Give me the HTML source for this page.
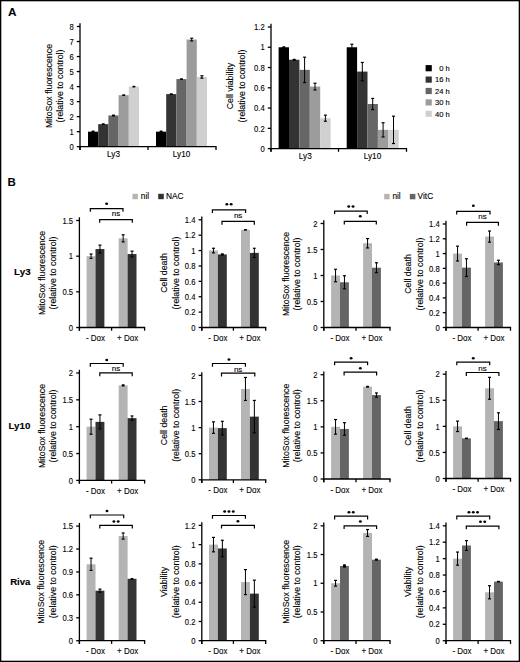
<!DOCTYPE html>
<html><head><meta charset="utf-8"><title>Figure</title>
<style>
html,body{margin:0;padding:0;background:#fff;}
body{width:520px;height:662px;overflow:hidden;font-family:"Liberation Sans", sans-serif;}
svg{display:block;}
text{stroke:#000;stroke-width:0.12px;stroke-linejoin:round;}
</style></head><body>
<svg width="520" height="662" viewBox="0 0 520 662" font-family='"Liberation Sans", sans-serif'>
<rect x="0" y="0" width="520" height="662" fill="#fff"/>
<rect x="88" y="131.67" width="10.2" height="15.02" fill="#000000"/>
<rect x="98.2" y="124.16" width="10.2" height="22.54" fill="#333333"/>
<rect x="108.4" y="115.45" width="10.2" height="31.25" fill="#666666"/>
<rect x="118.6" y="95.16" width="10.2" height="51.54" fill="#9c9c9c"/>
<rect x="128.8" y="86.6" width="10.2" height="60.1" fill="#d0d0d0"/>
<rect x="156" y="131.67" width="10.2" height="15.02" fill="#000000"/>
<rect x="166.2" y="94.11" width="10.2" height="52.59" fill="#333333"/>
<rect x="176.4" y="79.09" width="10.2" height="67.61" fill="#666666"/>
<rect x="186.6" y="39.57" width="10.2" height="107.13" fill="#9c9c9c"/>
<rect x="196.8" y="76.98" width="10.2" height="69.72" fill="#d0d0d0"/>
<rect x="91.6" y="130.57" width="3" height="2.2" rx="0.6" fill="#000"/>
<rect x="101.8" y="123.21" width="3" height="1.9" rx="0.6" fill="#000"/>
<rect x="112" y="114.5" width="3" height="1.9" rx="0.6" fill="#000"/>
<rect x="122.2" y="94.21" width="3" height="1.9" rx="0.6" fill="#000"/>
<rect x="132.4" y="85.65" width="3" height="1.9" rx="0.6" fill="#000"/>
<rect x="159.6" y="130.42" width="3" height="2.5" rx="0.6" fill="#000"/>
<rect x="169.8" y="93.16" width="3" height="1.9" rx="0.6" fill="#000"/>
<rect x="180" y="78.14" width="3" height="1.9" rx="0.6" fill="#000"/>
<line x1="191.7" y1="38.22" x2="191.7" y2="40.92" stroke="#000" stroke-width="1.0"/>
<line x1="190.2" y1="38.22" x2="193.2" y2="38.22" stroke="#000" stroke-width="1.2"/>
<line x1="190.2" y1="40.92" x2="193.2" y2="40.92" stroke="#000" stroke-width="1.2"/>
<line x1="201.9" y1="75.78" x2="201.9" y2="78.19" stroke="#000" stroke-width="1.0"/>
<line x1="200.4" y1="75.78" x2="203.4" y2="75.78" stroke="#000" stroke-width="1.2"/>
<line x1="200.4" y1="78.19" x2="203.4" y2="78.19" stroke="#000" stroke-width="1.2"/>
<line x1="80" y1="23.3" x2="80" y2="149.9" stroke="#000" stroke-width="1.3"/>
<line x1="80" y1="146.7" x2="216.6" y2="146.7" stroke="#000" stroke-width="1.3"/>
<line x1="80" y1="146.7" x2="80" y2="149.9" stroke="#000" stroke-width="1.3"/>
<line x1="148" y1="146.7" x2="148" y2="149.9" stroke="#000" stroke-width="1.3"/>
<line x1="216" y1="146.7" x2="216" y2="149.9" stroke="#000" stroke-width="1.3"/>
<line x1="76.8" y1="146.7" x2="80" y2="146.7" stroke="#000" stroke-width="1.3"/>
<text x="0" y="0" font-size="8.8" text-anchor="end" transform="translate(73.7 149.87) scale(0.87 1)" fill="#000">0</text>
<line x1="76.8" y1="131.67" x2="80" y2="131.67" stroke="#000" stroke-width="1.3"/>
<text x="0" y="0" font-size="8.8" text-anchor="end" transform="translate(73.7 134.84) scale(0.87 1)" fill="#000">1</text>
<line x1="76.8" y1="116.65" x2="80" y2="116.65" stroke="#000" stroke-width="1.3"/>
<text x="0" y="0" font-size="8.8" text-anchor="end" transform="translate(73.7 119.82) scale(0.87 1)" fill="#000">2</text>
<line x1="76.8" y1="101.62" x2="80" y2="101.62" stroke="#000" stroke-width="1.3"/>
<text x="0" y="0" font-size="8.8" text-anchor="end" transform="translate(73.7 104.79) scale(0.87 1)" fill="#000">3</text>
<line x1="76.8" y1="86.6" x2="80" y2="86.6" stroke="#000" stroke-width="1.3"/>
<text x="0" y="0" font-size="8.8" text-anchor="end" transform="translate(73.7 89.77) scale(0.87 1)" fill="#000">4</text>
<line x1="76.8" y1="71.57" x2="80" y2="71.57" stroke="#000" stroke-width="1.3"/>
<text x="0" y="0" font-size="8.8" text-anchor="end" transform="translate(73.7 74.74) scale(0.87 1)" fill="#000">5</text>
<line x1="76.8" y1="56.55" x2="80" y2="56.55" stroke="#000" stroke-width="1.3"/>
<text x="0" y="0" font-size="8.8" text-anchor="end" transform="translate(73.7 59.72) scale(0.87 1)" fill="#000">6</text>
<line x1="76.8" y1="41.53" x2="80" y2="41.53" stroke="#000" stroke-width="1.3"/>
<text x="0" y="0" font-size="8.8" text-anchor="end" transform="translate(73.7 44.69) scale(0.87 1)" fill="#000">7</text>
<line x1="76.8" y1="26.5" x2="80" y2="26.5" stroke="#000" stroke-width="1.3"/>
<text x="0" y="0" font-size="8.8" text-anchor="end" transform="translate(73.7 29.67) scale(0.87 1)" fill="#000">8</text>
<text x="113.5" y="156.5" font-size="8.2" text-anchor="middle" fill="#000">Ly3</text>
<text x="181.6" y="156.5" font-size="8.2" text-anchor="middle" fill="#000">Ly10</text>
<text x="52.2" y="86" font-size="8.8" text-anchor="middle" transform="rotate(-90 52.2 86)" fill="#000">MitoSox fluorescence</text>
<text x="63" y="86" font-size="8.8" text-anchor="middle" transform="rotate(-90 63 86)" fill="#000">(relative to control)</text>
<rect x="278.6" y="47.27" width="10.4" height="101.33" fill="#000000"/>
<rect x="289" y="59.73" width="10.4" height="88.87" fill="#333333"/>
<rect x="299.4" y="69.86" width="10.4" height="78.74" fill="#666666"/>
<rect x="309.8" y="86.58" width="10.4" height="62.02" fill="#9c9c9c"/>
<rect x="320.2" y="118.2" width="10.4" height="30.4" fill="#d0d0d0"/>
<rect x="346.7" y="47.27" width="10.4" height="101.33" fill="#000000"/>
<rect x="357.1" y="71.59" width="10.4" height="77.01" fill="#333333"/>
<rect x="367.5" y="104.01" width="10.4" height="44.59" fill="#666666"/>
<rect x="377.9" y="129.85" width="10.4" height="18.75" fill="#9c9c9c"/>
<rect x="388.3" y="129.85" width="10.4" height="18.75" fill="#d0d0d0"/>
<rect x="282.3" y="46.26" width="3" height="2.01" rx="0.6" fill="#000"/>
<rect x="292.7" y="58.72" width="3" height="2.01" rx="0.6" fill="#000"/>
<line x1="304.6" y1="57.2" x2="304.6" y2="82.53" stroke="#000" stroke-width="1.0"/>
<line x1="303.1" y1="57.2" x2="306.1" y2="57.2" stroke="#000" stroke-width="1.2"/>
<line x1="303.1" y1="82.53" x2="306.1" y2="82.53" stroke="#000" stroke-width="1.2"/>
<line x1="315" y1="83.24" x2="315" y2="89.93" stroke="#000" stroke-width="1.0"/>
<line x1="313.5" y1="83.24" x2="316.5" y2="83.24" stroke="#000" stroke-width="1.2"/>
<line x1="313.5" y1="89.93" x2="316.5" y2="89.93" stroke="#000" stroke-width="1.2"/>
<line x1="325.4" y1="115.16" x2="325.4" y2="121.24" stroke="#000" stroke-width="1.0"/>
<line x1="323.9" y1="115.16" x2="326.9" y2="115.16" stroke="#000" stroke-width="1.2"/>
<line x1="323.9" y1="121.24" x2="326.9" y2="121.24" stroke="#000" stroke-width="1.2"/>
<line x1="351.9" y1="44.23" x2="351.9" y2="50.31" stroke="#000" stroke-width="1.0"/>
<line x1="350.4" y1="44.23" x2="353.4" y2="44.23" stroke="#000" stroke-width="1.2"/>
<line x1="350.4" y1="50.31" x2="353.4" y2="50.31" stroke="#000" stroke-width="1.2"/>
<line x1="362.3" y1="62.47" x2="362.3" y2="80.71" stroke="#000" stroke-width="1.0"/>
<line x1="360.8" y1="62.47" x2="363.8" y2="62.47" stroke="#000" stroke-width="1.2"/>
<line x1="360.8" y1="80.71" x2="363.8" y2="80.71" stroke="#000" stroke-width="1.2"/>
<line x1="372.7" y1="98.44" x2="372.7" y2="109.59" stroke="#000" stroke-width="1.0"/>
<line x1="371.2" y1="98.44" x2="374.2" y2="98.44" stroke="#000" stroke-width="1.2"/>
<line x1="371.2" y1="109.59" x2="374.2" y2="109.59" stroke="#000" stroke-width="1.2"/>
<line x1="383.1" y1="122.76" x2="383.1" y2="136.95" stroke="#000" stroke-width="1.0"/>
<line x1="381.6" y1="122.76" x2="384.6" y2="122.76" stroke="#000" stroke-width="1.2"/>
<line x1="381.6" y1="136.95" x2="384.6" y2="136.95" stroke="#000" stroke-width="1.2"/>
<line x1="393.5" y1="116.17" x2="393.5" y2="143.53" stroke="#000" stroke-width="1.0"/>
<line x1="392" y1="116.17" x2="395" y2="116.17" stroke="#000" stroke-width="1.2"/>
<line x1="392" y1="143.53" x2="395" y2="143.53" stroke="#000" stroke-width="1.2"/>
<line x1="271" y1="23.8" x2="271" y2="151.8" stroke="#000" stroke-width="1.3"/>
<line x1="271" y1="148.6" x2="407.1" y2="148.6" stroke="#000" stroke-width="1.3"/>
<line x1="271" y1="148.6" x2="271" y2="151.8" stroke="#000" stroke-width="1.3"/>
<line x1="338.5" y1="148.6" x2="338.5" y2="151.8" stroke="#000" stroke-width="1.3"/>
<line x1="406.5" y1="148.6" x2="406.5" y2="151.8" stroke="#000" stroke-width="1.3"/>
<line x1="267.8" y1="148.6" x2="271" y2="148.6" stroke="#000" stroke-width="1.3"/>
<text x="0" y="0" font-size="8.8" text-anchor="end" transform="translate(264.7 151.77) scale(0.87 1)" fill="#000">0</text>
<line x1="267.8" y1="128.33" x2="271" y2="128.33" stroke="#000" stroke-width="1.3"/>
<text x="0" y="0" font-size="8.8" text-anchor="end" transform="translate(264.7 131.5) scale(0.87 1)" fill="#000">0.2</text>
<line x1="267.8" y1="108.07" x2="271" y2="108.07" stroke="#000" stroke-width="1.3"/>
<text x="0" y="0" font-size="8.8" text-anchor="end" transform="translate(264.7 111.23) scale(0.87 1)" fill="#000">0.4</text>
<line x1="267.8" y1="87.8" x2="271" y2="87.8" stroke="#000" stroke-width="1.3"/>
<text x="0" y="0" font-size="8.8" text-anchor="end" transform="translate(264.7 90.97) scale(0.87 1)" fill="#000">0.6</text>
<line x1="267.8" y1="67.53" x2="271" y2="67.53" stroke="#000" stroke-width="1.3"/>
<text x="0" y="0" font-size="8.8" text-anchor="end" transform="translate(264.7 70.7) scale(0.87 1)" fill="#000">0.8</text>
<line x1="267.8" y1="47.27" x2="271" y2="47.27" stroke="#000" stroke-width="1.3"/>
<text x="0" y="0" font-size="8.8" text-anchor="end" transform="translate(264.7 50.43) scale(0.87 1)" fill="#000">1</text>
<line x1="267.8" y1="27" x2="271" y2="27" stroke="#000" stroke-width="1.3"/>
<text x="0" y="0" font-size="8.8" text-anchor="end" transform="translate(264.7 30.17) scale(0.87 1)" fill="#000">1.2</text>
<text x="305.3" y="158.9" font-size="8.2" text-anchor="middle" fill="#000">Ly3</text>
<text x="372.5" y="158.9" font-size="8.2" text-anchor="middle" fill="#000">Ly10</text>
<text x="233" y="86" font-size="8.8" text-anchor="middle" transform="rotate(-90 233 86)" fill="#000">Cell viability</text>
<text x="244.6" y="86" font-size="8.8" text-anchor="middle" transform="rotate(-90 244.6 86)" fill="#000">(relative to control)</text>
<rect x="86.6" y="256.17" width="8.9" height="71.33" fill="#b4b4b4"/>
<rect x="95.5" y="249.03" width="8.9" height="78.47" fill="#333333"/>
<rect x="118.7" y="238.33" width="8.9" height="89.17" fill="#b4b4b4"/>
<rect x="127.6" y="254.03" width="8.9" height="73.47" fill="#333333"/>
<line x1="91.05" y1="254.03" x2="91.05" y2="258.31" stroke="#000" stroke-width="1.0"/>
<line x1="89.55" y1="254.03" x2="92.55" y2="254.03" stroke="#000" stroke-width="1.2"/>
<line x1="89.55" y1="258.31" x2="92.55" y2="258.31" stroke="#000" stroke-width="1.2"/>
<line x1="99.95" y1="245.11" x2="99.95" y2="252.96" stroke="#000" stroke-width="1.0"/>
<line x1="98.45" y1="245.11" x2="101.45" y2="245.11" stroke="#000" stroke-width="1.2"/>
<line x1="98.45" y1="252.96" x2="101.45" y2="252.96" stroke="#000" stroke-width="1.2"/>
<line x1="123.15" y1="234.77" x2="123.15" y2="241.9" stroke="#000" stroke-width="1.0"/>
<line x1="121.65" y1="234.77" x2="124.65" y2="234.77" stroke="#000" stroke-width="1.2"/>
<line x1="121.65" y1="241.9" x2="124.65" y2="241.9" stroke="#000" stroke-width="1.2"/>
<line x1="132.05" y1="251.17" x2="132.05" y2="256.88" stroke="#000" stroke-width="1.0"/>
<line x1="130.55" y1="251.17" x2="133.55" y2="251.17" stroke="#000" stroke-width="1.2"/>
<line x1="130.55" y1="256.88" x2="133.55" y2="256.88" stroke="#000" stroke-width="1.2"/>
<line x1="79.4" y1="217.3" x2="79.4" y2="330.7" stroke="#000" stroke-width="1.3"/>
<line x1="79.4" y1="327.5" x2="145.2" y2="327.5" stroke="#000" stroke-width="1.3"/>
<line x1="79.4" y1="327.5" x2="79.4" y2="330.7" stroke="#000" stroke-width="1.3"/>
<line x1="111.6" y1="327.5" x2="111.6" y2="330.7" stroke="#000" stroke-width="1.3"/>
<line x1="144.6" y1="327.5" x2="144.6" y2="330.7" stroke="#000" stroke-width="1.3"/>
<line x1="76.2" y1="327.5" x2="79.4" y2="327.5" stroke="#000" stroke-width="1.3"/>
<text x="0" y="0" font-size="8.8" text-anchor="end" transform="translate(73.1 330.67) scale(0.87 1)" fill="#000">0</text>
<line x1="76.2" y1="291.83" x2="79.4" y2="291.83" stroke="#000" stroke-width="1.3"/>
<text x="0" y="0" font-size="8.8" text-anchor="end" transform="translate(73.1 295) scale(0.87 1)" fill="#000">0.5</text>
<line x1="76.2" y1="256.17" x2="79.4" y2="256.17" stroke="#000" stroke-width="1.3"/>
<text x="0" y="0" font-size="8.8" text-anchor="end" transform="translate(73.1 259.33) scale(0.87 1)" fill="#000">1</text>
<line x1="76.2" y1="220.5" x2="79.4" y2="220.5" stroke="#000" stroke-width="1.3"/>
<text x="0" y="0" font-size="8.8" text-anchor="end" transform="translate(73.1 223.67) scale(0.87 1)" fill="#000">1.5</text>
<text x="0" y="0" font-size="8.7" text-anchor="middle" transform="translate(95.5 341.2) scale(0.92 1)" fill="#000">- Dox</text>
<text x="0" y="0" font-size="8.7" text-anchor="middle" transform="translate(127.6 341.2) scale(0.92 1)" fill="#000">+ Dox</text>
<text x="44.5" y="273" font-size="8.8" text-anchor="middle" transform="rotate(-90 44.5 273)" fill="#000">MitoSox fluorescence</text>
<text x="55.7" y="273" font-size="8.8" text-anchor="middle" transform="rotate(-90 55.7 273)" fill="#000">(relative to control)</text>
<polyline points="90.3,211.8 90.3,208.6 123,208.6 123,211.8" fill="none" stroke="#000" stroke-width="1.2"/>
<ellipse cx="106.65" cy="203.8" rx="1.45" ry="1.25" fill="#000"/>
<polyline points="99.7,222.8 99.7,219.6 132.3,219.6 132.3,222.8" fill="none" stroke="#000" stroke-width="1.2"/>
<text x="116" y="216.3" font-size="8.0" text-anchor="middle" fill="#000">ns</text>
<rect x="209" y="250.57" width="8.9" height="76.93" fill="#b4b4b4"/>
<rect x="217.9" y="254.42" width="8.9" height="73.08" fill="#333333"/>
<rect x="241" y="229.8" width="8.9" height="97.7" fill="#b4b4b4"/>
<rect x="249.9" y="252.88" width="8.9" height="74.62" fill="#333333"/>
<line x1="213.45" y1="248.26" x2="213.45" y2="252.88" stroke="#000" stroke-width="1.0"/>
<line x1="211.95" y1="248.26" x2="214.95" y2="248.26" stroke="#000" stroke-width="1.2"/>
<line x1="211.95" y1="252.88" x2="214.95" y2="252.88" stroke="#000" stroke-width="1.2"/>
<rect x="220.85" y="253.15" width="3" height="2.54" rx="0.6" fill="#000"/>
<rect x="243.95" y="228.92" width="3" height="1.77" rx="0.6" fill="#000"/>
<line x1="254.35" y1="248.26" x2="254.35" y2="257.5" stroke="#000" stroke-width="1.0"/>
<line x1="252.85" y1="248.26" x2="255.85" y2="248.26" stroke="#000" stroke-width="1.2"/>
<line x1="252.85" y1="257.5" x2="255.85" y2="257.5" stroke="#000" stroke-width="1.2"/>
<line x1="201.8" y1="216.6" x2="201.8" y2="330.7" stroke="#000" stroke-width="1.3"/>
<line x1="201.8" y1="327.5" x2="266.3" y2="327.5" stroke="#000" stroke-width="1.3"/>
<line x1="201.8" y1="327.5" x2="201.8" y2="330.7" stroke="#000" stroke-width="1.3"/>
<line x1="233.4" y1="327.5" x2="233.4" y2="330.7" stroke="#000" stroke-width="1.3"/>
<line x1="265.7" y1="327.5" x2="265.7" y2="330.7" stroke="#000" stroke-width="1.3"/>
<line x1="198.6" y1="327.5" x2="201.8" y2="327.5" stroke="#000" stroke-width="1.3"/>
<text x="0" y="0" font-size="8.8" text-anchor="end" transform="translate(195.5 330.67) scale(0.87 1)" fill="#000">0</text>
<line x1="198.6" y1="312.11" x2="201.8" y2="312.11" stroke="#000" stroke-width="1.3"/>
<text x="0" y="0" font-size="8.8" text-anchor="end" transform="translate(195.5 315.28) scale(0.87 1)" fill="#000">0.2</text>
<line x1="198.6" y1="296.73" x2="201.8" y2="296.73" stroke="#000" stroke-width="1.3"/>
<text x="0" y="0" font-size="8.8" text-anchor="end" transform="translate(195.5 299.9) scale(0.87 1)" fill="#000">0.4</text>
<line x1="198.6" y1="281.34" x2="201.8" y2="281.34" stroke="#000" stroke-width="1.3"/>
<text x="0" y="0" font-size="8.8" text-anchor="end" transform="translate(195.5 284.51) scale(0.87 1)" fill="#000">0.6</text>
<line x1="198.6" y1="265.96" x2="201.8" y2="265.96" stroke="#000" stroke-width="1.3"/>
<text x="0" y="0" font-size="8.8" text-anchor="end" transform="translate(195.5 269.13) scale(0.87 1)" fill="#000">0.8</text>
<line x1="198.6" y1="250.57" x2="201.8" y2="250.57" stroke="#000" stroke-width="1.3"/>
<text x="0" y="0" font-size="8.8" text-anchor="end" transform="translate(195.5 253.74) scale(0.87 1)" fill="#000">1</text>
<line x1="198.6" y1="235.19" x2="201.8" y2="235.19" stroke="#000" stroke-width="1.3"/>
<text x="0" y="0" font-size="8.8" text-anchor="end" transform="translate(195.5 238.35) scale(0.87 1)" fill="#000">1.2</text>
<line x1="198.6" y1="219.8" x2="201.8" y2="219.8" stroke="#000" stroke-width="1.3"/>
<text x="0" y="0" font-size="8.8" text-anchor="end" transform="translate(195.5 222.97) scale(0.87 1)" fill="#000">1.4</text>
<text x="0" y="0" font-size="8.7" text-anchor="middle" transform="translate(217.9 341.2) scale(0.92 1)" fill="#000">- Dox</text>
<text x="0" y="0" font-size="8.7" text-anchor="middle" transform="translate(249.9 341.2) scale(0.92 1)" fill="#000">+ Dox</text>
<text x="167.2" y="273" font-size="8.8" text-anchor="middle" transform="rotate(-90 167.2 273)" fill="#000">Cell death</text>
<text x="178.8" y="273" font-size="8.8" text-anchor="middle" transform="rotate(-90 178.8 273)" fill="#000">(relative to control)</text>
<polyline points="212.4,213.1 212.4,209.9 245.6,209.9 245.6,213.1" fill="none" stroke="#000" stroke-width="1.2"/>
<ellipse cx="226.85" cy="204.25" rx="1.45" ry="1.25" fill="#000"/>
<ellipse cx="231.15" cy="204.25" rx="1.45" ry="1.25" fill="#000"/>
<polyline points="222,224.7 222,221.3 254.3,221.3 254.3,224.7" fill="none" stroke="#000" stroke-width="1.2"/>
<text x="238.15" y="218.2" font-size="8.0" text-anchor="middle" fill="#000">ns</text>
<rect x="331.1" y="275.5" width="8.9" height="52" fill="#b4b4b4"/>
<rect x="340" y="282.26" width="8.9" height="45.24" fill="#656565"/>
<rect x="363.1" y="243.26" width="8.9" height="84.24" fill="#b4b4b4"/>
<rect x="372" y="267.7" width="8.9" height="59.8" fill="#656565"/>
<line x1="335.55" y1="269.26" x2="335.55" y2="281.74" stroke="#000" stroke-width="1.0"/>
<line x1="334.05" y1="269.26" x2="337.05" y2="269.26" stroke="#000" stroke-width="1.2"/>
<line x1="334.05" y1="281.74" x2="337.05" y2="281.74" stroke="#000" stroke-width="1.2"/>
<line x1="344.45" y1="275.76" x2="344.45" y2="288.76" stroke="#000" stroke-width="1.0"/>
<line x1="342.95" y1="275.76" x2="345.95" y2="275.76" stroke="#000" stroke-width="1.2"/>
<line x1="342.95" y1="288.76" x2="345.95" y2="288.76" stroke="#000" stroke-width="1.2"/>
<line x1="367.55" y1="238.58" x2="367.55" y2="247.94" stroke="#000" stroke-width="1.0"/>
<line x1="366.05" y1="238.58" x2="369.05" y2="238.58" stroke="#000" stroke-width="1.2"/>
<line x1="366.05" y1="247.94" x2="369.05" y2="247.94" stroke="#000" stroke-width="1.2"/>
<line x1="376.45" y1="262.76" x2="376.45" y2="272.64" stroke="#000" stroke-width="1.0"/>
<line x1="374.95" y1="262.76" x2="377.95" y2="262.76" stroke="#000" stroke-width="1.2"/>
<line x1="374.95" y1="272.64" x2="377.95" y2="272.64" stroke="#000" stroke-width="1.2"/>
<line x1="323.8" y1="220.3" x2="323.8" y2="330.7" stroke="#000" stroke-width="1.3"/>
<line x1="323.8" y1="327.5" x2="390.6" y2="327.5" stroke="#000" stroke-width="1.3"/>
<line x1="323.8" y1="327.5" x2="323.8" y2="330.7" stroke="#000" stroke-width="1.3"/>
<line x1="356" y1="327.5" x2="356" y2="330.7" stroke="#000" stroke-width="1.3"/>
<line x1="390" y1="327.5" x2="390" y2="330.7" stroke="#000" stroke-width="1.3"/>
<line x1="320.6" y1="327.5" x2="323.8" y2="327.5" stroke="#000" stroke-width="1.3"/>
<text x="0" y="0" font-size="8.8" text-anchor="end" transform="translate(317.5 330.67) scale(0.87 1)" fill="#000">0</text>
<line x1="320.6" y1="301.5" x2="323.8" y2="301.5" stroke="#000" stroke-width="1.3"/>
<text x="0" y="0" font-size="8.8" text-anchor="end" transform="translate(317.5 304.67) scale(0.87 1)" fill="#000">0.5</text>
<line x1="320.6" y1="275.5" x2="323.8" y2="275.5" stroke="#000" stroke-width="1.3"/>
<text x="0" y="0" font-size="8.8" text-anchor="end" transform="translate(317.5 278.67) scale(0.87 1)" fill="#000">1</text>
<line x1="320.6" y1="249.5" x2="323.8" y2="249.5" stroke="#000" stroke-width="1.3"/>
<text x="0" y="0" font-size="8.8" text-anchor="end" transform="translate(317.5 252.67) scale(0.87 1)" fill="#000">1.5</text>
<line x1="320.6" y1="223.5" x2="323.8" y2="223.5" stroke="#000" stroke-width="1.3"/>
<text x="0" y="0" font-size="8.8" text-anchor="end" transform="translate(317.5 226.67) scale(0.87 1)" fill="#000">2</text>
<text x="0" y="0" font-size="8.7" text-anchor="middle" transform="translate(340 341.2) scale(0.92 1)" fill="#000">- Dox</text>
<text x="0" y="0" font-size="8.7" text-anchor="middle" transform="translate(372 341.2) scale(0.92 1)" fill="#000">+ Dox</text>
<text x="289" y="274" font-size="8.8" text-anchor="middle" transform="rotate(-90 289 274)" fill="#000">MitoSox fluorescence</text>
<text x="300.2" y="274" font-size="8.8" text-anchor="middle" transform="rotate(-90 300.2 274)" fill="#000">(relative to control)</text>
<polyline points="334.6,214.1 334.6,211.1 367.2,211.1 367.2,214.1" fill="none" stroke="#000" stroke-width="1.2"/>
<ellipse cx="348.75" cy="206.4" rx="1.45" ry="1.25" fill="#000"/>
<ellipse cx="353.05" cy="206.4" rx="1.45" ry="1.25" fill="#000"/>
<polyline points="344.3,224.4 344.3,221.4 376.3,221.4 376.3,224.4" fill="none" stroke="#000" stroke-width="1.2"/>
<ellipse cx="360.3" cy="216.3" rx="1.45" ry="1.25" fill="#000"/>
<rect x="453.1" y="253.57" width="8.9" height="73.93" fill="#b4b4b4"/>
<rect x="462" y="267.62" width="8.9" height="59.88" fill="#656565"/>
<rect x="485.1" y="236.57" width="8.9" height="90.93" fill="#b4b4b4"/>
<rect x="494" y="262.44" width="8.9" height="65.06" fill="#656565"/>
<line x1="457.55" y1="246.18" x2="457.55" y2="260.96" stroke="#000" stroke-width="1.0"/>
<line x1="456.05" y1="246.18" x2="459.05" y2="246.18" stroke="#000" stroke-width="1.2"/>
<line x1="456.05" y1="260.96" x2="459.05" y2="260.96" stroke="#000" stroke-width="1.2"/>
<line x1="466.45" y1="258.75" x2="466.45" y2="276.49" stroke="#000" stroke-width="1.0"/>
<line x1="464.95" y1="258.75" x2="467.95" y2="258.75" stroke="#000" stroke-width="1.2"/>
<line x1="464.95" y1="276.49" x2="467.95" y2="276.49" stroke="#000" stroke-width="1.2"/>
<line x1="489.55" y1="231.02" x2="489.55" y2="242.11" stroke="#000" stroke-width="1.0"/>
<line x1="488.05" y1="231.02" x2="491.05" y2="231.02" stroke="#000" stroke-width="1.2"/>
<line x1="488.05" y1="242.11" x2="491.05" y2="242.11" stroke="#000" stroke-width="1.2"/>
<line x1="498.45" y1="260.23" x2="498.45" y2="264.66" stroke="#000" stroke-width="1.0"/>
<line x1="496.95" y1="260.23" x2="499.95" y2="260.23" stroke="#000" stroke-width="1.2"/>
<line x1="496.95" y1="264.66" x2="499.95" y2="264.66" stroke="#000" stroke-width="1.2"/>
<line x1="446" y1="220.8" x2="446" y2="330.7" stroke="#000" stroke-width="1.3"/>
<line x1="446" y1="327.5" x2="511.1" y2="327.5" stroke="#000" stroke-width="1.3"/>
<line x1="446" y1="327.5" x2="446" y2="330.7" stroke="#000" stroke-width="1.3"/>
<line x1="478.1" y1="327.5" x2="478.1" y2="330.7" stroke="#000" stroke-width="1.3"/>
<line x1="510.5" y1="327.5" x2="510.5" y2="330.7" stroke="#000" stroke-width="1.3"/>
<line x1="442.8" y1="327.5" x2="446" y2="327.5" stroke="#000" stroke-width="1.3"/>
<text x="0" y="0" font-size="8.8" text-anchor="end" transform="translate(439.7 330.67) scale(0.87 1)" fill="#000">0</text>
<line x1="442.8" y1="312.71" x2="446" y2="312.71" stroke="#000" stroke-width="1.3"/>
<text x="0" y="0" font-size="8.8" text-anchor="end" transform="translate(439.7 315.88) scale(0.87 1)" fill="#000">0.2</text>
<line x1="442.8" y1="297.93" x2="446" y2="297.93" stroke="#000" stroke-width="1.3"/>
<text x="0" y="0" font-size="8.8" text-anchor="end" transform="translate(439.7 301.1) scale(0.87 1)" fill="#000">0.4</text>
<line x1="442.8" y1="283.14" x2="446" y2="283.14" stroke="#000" stroke-width="1.3"/>
<text x="0" y="0" font-size="8.8" text-anchor="end" transform="translate(439.7 286.31) scale(0.87 1)" fill="#000">0.6</text>
<line x1="442.8" y1="268.36" x2="446" y2="268.36" stroke="#000" stroke-width="1.3"/>
<text x="0" y="0" font-size="8.8" text-anchor="end" transform="translate(439.7 271.53) scale(0.87 1)" fill="#000">0.8</text>
<line x1="442.8" y1="253.57" x2="446" y2="253.57" stroke="#000" stroke-width="1.3"/>
<text x="0" y="0" font-size="8.8" text-anchor="end" transform="translate(439.7 256.74) scale(0.87 1)" fill="#000">1</text>
<line x1="442.8" y1="238.79" x2="446" y2="238.79" stroke="#000" stroke-width="1.3"/>
<text x="0" y="0" font-size="8.8" text-anchor="end" transform="translate(439.7 241.95) scale(0.87 1)" fill="#000">1.2</text>
<line x1="442.8" y1="224" x2="446" y2="224" stroke="#000" stroke-width="1.3"/>
<text x="0" y="0" font-size="8.8" text-anchor="end" transform="translate(439.7 227.17) scale(0.87 1)" fill="#000">1.4</text>
<text x="0" y="0" font-size="8.7" text-anchor="middle" transform="translate(462 341.2) scale(0.92 1)" fill="#000">- Dox</text>
<text x="0" y="0" font-size="8.7" text-anchor="middle" transform="translate(494 341.2) scale(0.92 1)" fill="#000">+ Dox</text>
<text x="410.5" y="274" font-size="8.8" text-anchor="middle" transform="rotate(-90 410.5 274)" fill="#000">Cell death</text>
<text x="423.3" y="274" font-size="8.8" text-anchor="middle" transform="rotate(-90 423.3 274)" fill="#000">(relative to control)</text>
<polyline points="456.7,214.5 456.7,211.3 490,211.3 490,214.5" fill="none" stroke="#000" stroke-width="1.2"/>
<ellipse cx="473.35" cy="205.8" rx="1.45" ry="1.25" fill="#000"/>
<polyline points="466.6,225.7 466.6,222.3 498.4,222.3 498.4,225.7" fill="none" stroke="#000" stroke-width="1.2"/>
<text x="482.5" y="218.8" font-size="8.0" text-anchor="middle" fill="#000">ns</text>
<rect x="86.6" y="426.7" width="8.9" height="53.7" fill="#b4b4b4"/>
<rect x="95.5" y="421.87" width="8.9" height="58.53" fill="#333333"/>
<rect x="118.7" y="385.35" width="8.9" height="95.05" fill="#b4b4b4"/>
<rect x="127.6" y="418.11" width="8.9" height="62.29" fill="#333333"/>
<line x1="91.05" y1="419.18" x2="91.05" y2="434.22" stroke="#000" stroke-width="1.0"/>
<line x1="89.55" y1="419.18" x2="92.55" y2="419.18" stroke="#000" stroke-width="1.2"/>
<line x1="89.55" y1="434.22" x2="92.55" y2="434.22" stroke="#000" stroke-width="1.2"/>
<line x1="99.95" y1="414.89" x2="99.95" y2="428.85" stroke="#000" stroke-width="1.0"/>
<line x1="98.45" y1="414.89" x2="101.45" y2="414.89" stroke="#000" stroke-width="1.2"/>
<line x1="98.45" y1="428.85" x2="101.45" y2="428.85" stroke="#000" stroke-width="1.2"/>
<rect x="121.65" y="384.31" width="3" height="2.07" rx="0.6" fill="#000"/>
<line x1="132.05" y1="415.96" x2="132.05" y2="420.26" stroke="#000" stroke-width="1.0"/>
<line x1="130.55" y1="415.96" x2="133.55" y2="415.96" stroke="#000" stroke-width="1.2"/>
<line x1="130.55" y1="420.26" x2="133.55" y2="420.26" stroke="#000" stroke-width="1.2"/>
<line x1="79.4" y1="369.8" x2="79.4" y2="483.6" stroke="#000" stroke-width="1.3"/>
<line x1="79.4" y1="480.4" x2="145.2" y2="480.4" stroke="#000" stroke-width="1.3"/>
<line x1="79.4" y1="480.4" x2="79.4" y2="483.6" stroke="#000" stroke-width="1.3"/>
<line x1="111.6" y1="480.4" x2="111.6" y2="483.6" stroke="#000" stroke-width="1.3"/>
<line x1="144.6" y1="480.4" x2="144.6" y2="483.6" stroke="#000" stroke-width="1.3"/>
<line x1="76.2" y1="480.4" x2="79.4" y2="480.4" stroke="#000" stroke-width="1.3"/>
<text x="0" y="0" font-size="8.8" text-anchor="end" transform="translate(73.1 483.57) scale(0.87 1)" fill="#000">0</text>
<line x1="76.2" y1="453.55" x2="79.4" y2="453.55" stroke="#000" stroke-width="1.3"/>
<text x="0" y="0" font-size="8.8" text-anchor="end" transform="translate(73.1 456.72) scale(0.87 1)" fill="#000">0.5</text>
<line x1="76.2" y1="426.7" x2="79.4" y2="426.7" stroke="#000" stroke-width="1.3"/>
<text x="0" y="0" font-size="8.8" text-anchor="end" transform="translate(73.1 429.87) scale(0.87 1)" fill="#000">1</text>
<line x1="76.2" y1="399.85" x2="79.4" y2="399.85" stroke="#000" stroke-width="1.3"/>
<text x="0" y="0" font-size="8.8" text-anchor="end" transform="translate(73.1 403.02) scale(0.87 1)" fill="#000">1.5</text>
<line x1="76.2" y1="373" x2="79.4" y2="373" stroke="#000" stroke-width="1.3"/>
<text x="0" y="0" font-size="8.8" text-anchor="end" transform="translate(73.1 376.17) scale(0.87 1)" fill="#000">2</text>
<text x="0" y="0" font-size="8.7" text-anchor="middle" transform="translate(95.5 493.9) scale(0.92 1)" fill="#000">- Dox</text>
<text x="0" y="0" font-size="8.7" text-anchor="middle" transform="translate(127.6 493.9) scale(0.92 1)" fill="#000">+ Dox</text>
<text x="44.5" y="426" font-size="8.8" text-anchor="middle" transform="rotate(-90 44.5 426)" fill="#000">MitoSox fluorescence</text>
<text x="55.7" y="426" font-size="8.8" text-anchor="middle" transform="rotate(-90 55.7 426)" fill="#000">(relative to control)</text>
<polyline points="90.3,366.7 90.3,363.5 123.2,363.5 123.2,366.7" fill="none" stroke="#000" stroke-width="1.2"/>
<ellipse cx="106.75" cy="359.9" rx="1.45" ry="1.25" fill="#000"/>
<polyline points="99.8,376.2 99.8,372.8 132.2,372.8 132.2,376.2" fill="none" stroke="#000" stroke-width="1.2"/>
<text x="116" y="371" font-size="8.0" text-anchor="middle" fill="#000">ns</text>
<rect x="209" y="427.6" width="8.9" height="52.2" fill="#b4b4b4"/>
<rect x="217.9" y="428.12" width="8.9" height="51.68" fill="#333333"/>
<rect x="241" y="388.97" width="8.9" height="90.83" fill="#b4b4b4"/>
<rect x="249.9" y="416.64" width="8.9" height="63.16" fill="#333333"/>
<line x1="213.45" y1="421.86" x2="213.45" y2="433.34" stroke="#000" stroke-width="1.0"/>
<line x1="211.95" y1="421.86" x2="214.95" y2="421.86" stroke="#000" stroke-width="1.2"/>
<line x1="211.95" y1="433.34" x2="214.95" y2="433.34" stroke="#000" stroke-width="1.2"/>
<line x1="222.35" y1="421.34" x2="222.35" y2="434.91" stroke="#000" stroke-width="1.0"/>
<line x1="220.85" y1="421.34" x2="223.85" y2="421.34" stroke="#000" stroke-width="1.2"/>
<line x1="220.85" y1="434.91" x2="223.85" y2="434.91" stroke="#000" stroke-width="1.2"/>
<line x1="245.45" y1="377.49" x2="245.45" y2="400.46" stroke="#000" stroke-width="1.0"/>
<line x1="243.95" y1="377.49" x2="246.95" y2="377.49" stroke="#000" stroke-width="1.2"/>
<line x1="243.95" y1="400.46" x2="246.95" y2="400.46" stroke="#000" stroke-width="1.2"/>
<line x1="254.35" y1="400.46" x2="254.35" y2="432.82" stroke="#000" stroke-width="1.0"/>
<line x1="252.85" y1="400.46" x2="255.85" y2="400.46" stroke="#000" stroke-width="1.2"/>
<line x1="252.85" y1="432.82" x2="255.85" y2="432.82" stroke="#000" stroke-width="1.2"/>
<line x1="201.8" y1="372.2" x2="201.8" y2="483" stroke="#000" stroke-width="1.3"/>
<line x1="201.8" y1="479.8" x2="266.3" y2="479.8" stroke="#000" stroke-width="1.3"/>
<line x1="201.8" y1="479.8" x2="201.8" y2="483" stroke="#000" stroke-width="1.3"/>
<line x1="233.4" y1="479.8" x2="233.4" y2="483" stroke="#000" stroke-width="1.3"/>
<line x1="265.7" y1="479.8" x2="265.7" y2="483" stroke="#000" stroke-width="1.3"/>
<line x1="198.6" y1="479.8" x2="201.8" y2="479.8" stroke="#000" stroke-width="1.3"/>
<text x="0" y="0" font-size="8.8" text-anchor="end" transform="translate(195.5 482.97) scale(0.87 1)" fill="#000">0</text>
<line x1="198.6" y1="453.7" x2="201.8" y2="453.7" stroke="#000" stroke-width="1.3"/>
<text x="0" y="0" font-size="8.8" text-anchor="end" transform="translate(195.5 456.87) scale(0.87 1)" fill="#000">0.5</text>
<line x1="198.6" y1="427.6" x2="201.8" y2="427.6" stroke="#000" stroke-width="1.3"/>
<text x="0" y="0" font-size="8.8" text-anchor="end" transform="translate(195.5 430.77) scale(0.87 1)" fill="#000">1</text>
<line x1="198.6" y1="401.5" x2="201.8" y2="401.5" stroke="#000" stroke-width="1.3"/>
<text x="0" y="0" font-size="8.8" text-anchor="end" transform="translate(195.5 404.67) scale(0.87 1)" fill="#000">1.5</text>
<line x1="198.6" y1="375.4" x2="201.8" y2="375.4" stroke="#000" stroke-width="1.3"/>
<text x="0" y="0" font-size="8.8" text-anchor="end" transform="translate(195.5 378.57) scale(0.87 1)" fill="#000">2</text>
<text x="0" y="0" font-size="8.7" text-anchor="middle" transform="translate(217.9 493.3) scale(0.92 1)" fill="#000">- Dox</text>
<text x="0" y="0" font-size="8.7" text-anchor="middle" transform="translate(249.9 493.3) scale(0.92 1)" fill="#000">+ Dox</text>
<text x="167.2" y="425.3" font-size="8.8" text-anchor="middle" transform="rotate(-90 167.2 425.3)" fill="#000">Cell death</text>
<text x="178.8" y="425.3" font-size="8.8" text-anchor="middle" transform="rotate(-90 178.8 425.3)" fill="#000">(relative to control)</text>
<polyline points="212.5,366.7 212.5,363.5 245.4,363.5 245.4,366.7" fill="none" stroke="#000" stroke-width="1.2"/>
<ellipse cx="228.95" cy="359.5" rx="1.45" ry="1.25" fill="#000"/>
<polyline points="221.5,376.6 221.5,373.2 254.8,373.2 254.8,376.6" fill="none" stroke="#000" stroke-width="1.2"/>
<text x="238.15" y="371.6" font-size="8.0" text-anchor="middle" fill="#000">ns</text>
<rect x="331.1" y="426.85" width="8.9" height="52.15" fill="#b4b4b4"/>
<rect x="340" y="428.94" width="8.9" height="50.06" fill="#656565"/>
<rect x="363.1" y="386.69" width="8.9" height="92.31" fill="#b4b4b4"/>
<rect x="372" y="395.04" width="8.9" height="83.96" fill="#656565"/>
<line x1="335.55" y1="419.55" x2="335.55" y2="434.15" stroke="#000" stroke-width="1.0"/>
<line x1="334.05" y1="419.55" x2="337.05" y2="419.55" stroke="#000" stroke-width="1.2"/>
<line x1="334.05" y1="434.15" x2="337.05" y2="434.15" stroke="#000" stroke-width="1.2"/>
<line x1="344.45" y1="422.68" x2="344.45" y2="435.19" stroke="#000" stroke-width="1.0"/>
<line x1="342.95" y1="422.68" x2="345.95" y2="422.68" stroke="#000" stroke-width="1.2"/>
<line x1="342.95" y1="435.19" x2="345.95" y2="435.19" stroke="#000" stroke-width="1.2"/>
<rect x="366.05" y="385.67" width="3" height="2.04" rx="0.6" fill="#000"/>
<line x1="376.45" y1="392.95" x2="376.45" y2="397.12" stroke="#000" stroke-width="1.0"/>
<line x1="374.95" y1="392.95" x2="377.95" y2="392.95" stroke="#000" stroke-width="1.2"/>
<line x1="374.95" y1="397.12" x2="377.95" y2="397.12" stroke="#000" stroke-width="1.2"/>
<line x1="323.8" y1="371.5" x2="323.8" y2="482.2" stroke="#000" stroke-width="1.3"/>
<line x1="323.8" y1="479" x2="390.6" y2="479" stroke="#000" stroke-width="1.3"/>
<line x1="323.8" y1="479" x2="323.8" y2="482.2" stroke="#000" stroke-width="1.3"/>
<line x1="356" y1="479" x2="356" y2="482.2" stroke="#000" stroke-width="1.3"/>
<line x1="390" y1="479" x2="390" y2="482.2" stroke="#000" stroke-width="1.3"/>
<line x1="320.6" y1="479" x2="323.8" y2="479" stroke="#000" stroke-width="1.3"/>
<text x="0" y="0" font-size="8.8" text-anchor="end" transform="translate(317.5 482.17) scale(0.87 1)" fill="#000">0</text>
<line x1="320.6" y1="452.93" x2="323.8" y2="452.93" stroke="#000" stroke-width="1.3"/>
<text x="0" y="0" font-size="8.8" text-anchor="end" transform="translate(317.5 456.09) scale(0.87 1)" fill="#000">0.5</text>
<line x1="320.6" y1="426.85" x2="323.8" y2="426.85" stroke="#000" stroke-width="1.3"/>
<text x="0" y="0" font-size="8.8" text-anchor="end" transform="translate(317.5 430.02) scale(0.87 1)" fill="#000">1</text>
<line x1="320.6" y1="400.77" x2="323.8" y2="400.77" stroke="#000" stroke-width="1.3"/>
<text x="0" y="0" font-size="8.8" text-anchor="end" transform="translate(317.5 403.94) scale(0.87 1)" fill="#000">1.5</text>
<line x1="320.6" y1="374.7" x2="323.8" y2="374.7" stroke="#000" stroke-width="1.3"/>
<text x="0" y="0" font-size="8.8" text-anchor="end" transform="translate(317.5 377.87) scale(0.87 1)" fill="#000">2</text>
<text x="0" y="0" font-size="8.7" text-anchor="middle" transform="translate(340 492.5) scale(0.92 1)" fill="#000">- Dox</text>
<text x="0" y="0" font-size="8.7" text-anchor="middle" transform="translate(372 492.5) scale(0.92 1)" fill="#000">+ Dox</text>
<text x="289" y="425.7" font-size="8.8" text-anchor="middle" transform="rotate(-90 289 425.7)" fill="#000">MitoSox fluorescence</text>
<text x="300.2" y="425.7" font-size="8.8" text-anchor="middle" transform="rotate(-90 300.2 425.7)" fill="#000">(relative to control)</text>
<polyline points="334.6,365.3 334.6,362.1 367.6,362.1 367.6,365.3" fill="none" stroke="#000" stroke-width="1.2"/>
<ellipse cx="351.1" cy="358.3" rx="1.45" ry="1.25" fill="#000"/>
<polyline points="344.1,375.4 344.1,372.2 376.6,372.2 376.6,375.4" fill="none" stroke="#000" stroke-width="1.2"/>
<ellipse cx="360.35" cy="368.2" rx="1.45" ry="1.25" fill="#000"/>
<rect x="453.1" y="426.35" width="8.9" height="52.15" fill="#b4b4b4"/>
<rect x="462" y="438.34" width="8.9" height="40.16" fill="#656565"/>
<rect x="485.1" y="388.28" width="8.9" height="90.22" fill="#b4b4b4"/>
<rect x="494" y="421.13" width="8.9" height="57.37" fill="#656565"/>
<line x1="457.55" y1="421.13" x2="457.55" y2="431.56" stroke="#000" stroke-width="1.0"/>
<line x1="456.05" y1="421.13" x2="459.05" y2="421.13" stroke="#000" stroke-width="1.2"/>
<line x1="456.05" y1="431.56" x2="459.05" y2="431.56" stroke="#000" stroke-width="1.2"/>
<rect x="464.95" y="437.54" width="3" height="1.6" rx="0.6" fill="#000"/>
<line x1="489.55" y1="377.33" x2="489.55" y2="399.23" stroke="#000" stroke-width="1.0"/>
<line x1="488.05" y1="377.33" x2="491.05" y2="377.33" stroke="#000" stroke-width="1.2"/>
<line x1="488.05" y1="399.23" x2="491.05" y2="399.23" stroke="#000" stroke-width="1.2"/>
<line x1="498.45" y1="412.79" x2="498.45" y2="429.48" stroke="#000" stroke-width="1.0"/>
<line x1="496.95" y1="412.79" x2="499.95" y2="412.79" stroke="#000" stroke-width="1.2"/>
<line x1="496.95" y1="429.48" x2="499.95" y2="429.48" stroke="#000" stroke-width="1.2"/>
<line x1="446" y1="371" x2="446" y2="481.7" stroke="#000" stroke-width="1.3"/>
<line x1="446" y1="478.5" x2="511.1" y2="478.5" stroke="#000" stroke-width="1.3"/>
<line x1="446" y1="478.5" x2="446" y2="481.7" stroke="#000" stroke-width="1.3"/>
<line x1="478.1" y1="478.5" x2="478.1" y2="481.7" stroke="#000" stroke-width="1.3"/>
<line x1="510.5" y1="478.5" x2="510.5" y2="481.7" stroke="#000" stroke-width="1.3"/>
<line x1="442.8" y1="478.5" x2="446" y2="478.5" stroke="#000" stroke-width="1.3"/>
<text x="0" y="0" font-size="8.8" text-anchor="end" transform="translate(439.7 481.67) scale(0.87 1)" fill="#000">0</text>
<line x1="442.8" y1="452.43" x2="446" y2="452.43" stroke="#000" stroke-width="1.3"/>
<text x="0" y="0" font-size="8.8" text-anchor="end" transform="translate(439.7 455.59) scale(0.87 1)" fill="#000">0.5</text>
<line x1="442.8" y1="426.35" x2="446" y2="426.35" stroke="#000" stroke-width="1.3"/>
<text x="0" y="0" font-size="8.8" text-anchor="end" transform="translate(439.7 429.52) scale(0.87 1)" fill="#000">1</text>
<line x1="442.8" y1="400.27" x2="446" y2="400.27" stroke="#000" stroke-width="1.3"/>
<text x="0" y="0" font-size="8.8" text-anchor="end" transform="translate(439.7 403.44) scale(0.87 1)" fill="#000">1.5</text>
<line x1="442.8" y1="374.2" x2="446" y2="374.2" stroke="#000" stroke-width="1.3"/>
<text x="0" y="0" font-size="8.8" text-anchor="end" transform="translate(439.7 377.37) scale(0.87 1)" fill="#000">2</text>
<text x="0" y="0" font-size="8.7" text-anchor="middle" transform="translate(462 492) scale(0.92 1)" fill="#000">- Dox</text>
<text x="0" y="0" font-size="8.7" text-anchor="middle" transform="translate(494 492) scale(0.92 1)" fill="#000">+ Dox</text>
<text x="410.5" y="426" font-size="8.8" text-anchor="middle" transform="rotate(-90 410.5 426)" fill="#000">Cell death</text>
<text x="423.3" y="426" font-size="8.8" text-anchor="middle" transform="rotate(-90 423.3 426)" fill="#000">(relative to control)</text>
<polyline points="456.8,365.3 456.8,362.1 489.7,362.1 489.7,365.3" fill="none" stroke="#000" stroke-width="1.2"/>
<ellipse cx="473.25" cy="358.3" rx="1.45" ry="1.25" fill="#000"/>
<polyline points="466.3,375.9 466.3,372.5 498.9,372.5 498.9,375.9" fill="none" stroke="#000" stroke-width="1.2"/>
<text x="482.6" y="370.8" font-size="8.0" text-anchor="middle" fill="#000">ns</text>
<rect x="86.6" y="564.3" width="8.9" height="76.4" fill="#b4b4b4"/>
<rect x="95.5" y="590.66" width="8.9" height="50.04" fill="#333333"/>
<rect x="118.7" y="536.03" width="8.9" height="104.67" fill="#b4b4b4"/>
<rect x="127.6" y="578.82" width="8.9" height="61.88" fill="#333333"/>
<line x1="91.05" y1="558.19" x2="91.05" y2="570.41" stroke="#000" stroke-width="1.0"/>
<line x1="89.55" y1="558.19" x2="92.55" y2="558.19" stroke="#000" stroke-width="1.2"/>
<line x1="89.55" y1="570.41" x2="92.55" y2="570.41" stroke="#000" stroke-width="1.2"/>
<line x1="99.95" y1="589.13" x2="99.95" y2="592.19" stroke="#000" stroke-width="1.0"/>
<line x1="98.45" y1="589.13" x2="101.45" y2="589.13" stroke="#000" stroke-width="1.2"/>
<line x1="98.45" y1="592.19" x2="101.45" y2="592.19" stroke="#000" stroke-width="1.2"/>
<line x1="123.15" y1="532.98" x2="123.15" y2="539.09" stroke="#000" stroke-width="1.0"/>
<line x1="121.65" y1="532.98" x2="124.65" y2="532.98" stroke="#000" stroke-width="1.2"/>
<line x1="121.65" y1="539.09" x2="124.65" y2="539.09" stroke="#000" stroke-width="1.2"/>
<rect x="130.55" y="577.93" width="3" height="1.76" rx="0.6" fill="#000"/>
<line x1="79.4" y1="522.9" x2="79.4" y2="643.9" stroke="#000" stroke-width="1.3"/>
<line x1="79.4" y1="640.7" x2="145.2" y2="640.7" stroke="#000" stroke-width="1.3"/>
<line x1="79.4" y1="640.7" x2="79.4" y2="643.9" stroke="#000" stroke-width="1.3"/>
<line x1="111.6" y1="640.7" x2="111.6" y2="643.9" stroke="#000" stroke-width="1.3"/>
<line x1="144.6" y1="640.7" x2="144.6" y2="643.9" stroke="#000" stroke-width="1.3"/>
<line x1="76.2" y1="640.7" x2="79.4" y2="640.7" stroke="#000" stroke-width="1.3"/>
<text x="0" y="0" font-size="8.8" text-anchor="end" transform="translate(73.1 643.87) scale(0.87 1)" fill="#000">0</text>
<line x1="76.2" y1="617.78" x2="79.4" y2="617.78" stroke="#000" stroke-width="1.3"/>
<text x="0" y="0" font-size="8.8" text-anchor="end" transform="translate(73.1 620.95) scale(0.87 1)" fill="#000">0.3</text>
<line x1="76.2" y1="594.86" x2="79.4" y2="594.86" stroke="#000" stroke-width="1.3"/>
<text x="0" y="0" font-size="8.8" text-anchor="end" transform="translate(73.1 598.03) scale(0.87 1)" fill="#000">0.6</text>
<line x1="76.2" y1="571.94" x2="79.4" y2="571.94" stroke="#000" stroke-width="1.3"/>
<text x="0" y="0" font-size="8.8" text-anchor="end" transform="translate(73.1 575.11) scale(0.87 1)" fill="#000">0.9</text>
<line x1="76.2" y1="549.02" x2="79.4" y2="549.02" stroke="#000" stroke-width="1.3"/>
<text x="0" y="0" font-size="8.8" text-anchor="end" transform="translate(73.1 552.19) scale(0.87 1)" fill="#000">1.2</text>
<line x1="76.2" y1="526.1" x2="79.4" y2="526.1" stroke="#000" stroke-width="1.3"/>
<text x="0" y="0" font-size="8.8" text-anchor="end" transform="translate(73.1 529.27) scale(0.87 1)" fill="#000">1.5</text>
<text x="0" y="0" font-size="8.7" text-anchor="middle" transform="translate(95.5 654) scale(0.92 1)" fill="#000">- Dox</text>
<text x="0" y="0" font-size="8.7" text-anchor="middle" transform="translate(127.6 654) scale(0.92 1)" fill="#000">+ Dox</text>
<text x="44.5" y="581.8" font-size="8.8" text-anchor="middle" transform="rotate(-90 44.5 581.8)" fill="#000">MitoSox fluorescence</text>
<text x="55.7" y="581.8" font-size="8.8" text-anchor="middle" transform="rotate(-90 55.7 581.8)" fill="#000">(relative to control)</text>
<polyline points="90.3,518.2 90.3,515 123.7,515 123.7,518.2" fill="none" stroke="#000" stroke-width="1.2"/>
<ellipse cx="107" cy="511" rx="1.45" ry="1.25" fill="#000"/>
<polyline points="99.8,528.6 99.8,525.4 132.3,525.4 132.3,528.6" fill="none" stroke="#000" stroke-width="1.2"/>
<ellipse cx="113.9" cy="521.4" rx="1.45" ry="1.25" fill="#000"/>
<ellipse cx="118.2" cy="521.4" rx="1.45" ry="1.25" fill="#000"/>
<rect x="209" y="544.62" width="8.9" height="96.08" fill="#b4b4b4"/>
<rect x="217.9" y="548.46" width="8.9" height="92.24" fill="#333333"/>
<rect x="241" y="582.09" width="8.9" height="58.61" fill="#b4b4b4"/>
<rect x="249.9" y="593.62" width="8.9" height="47.08" fill="#333333"/>
<line x1="213.45" y1="537.41" x2="213.45" y2="551.82" stroke="#000" stroke-width="1.0"/>
<line x1="211.95" y1="537.41" x2="214.95" y2="537.41" stroke="#000" stroke-width="1.2"/>
<line x1="211.95" y1="551.82" x2="214.95" y2="551.82" stroke="#000" stroke-width="1.2"/>
<line x1="222.35" y1="540.29" x2="222.35" y2="556.63" stroke="#000" stroke-width="1.0"/>
<line x1="220.85" y1="540.29" x2="223.85" y2="540.29" stroke="#000" stroke-width="1.2"/>
<line x1="220.85" y1="556.63" x2="223.85" y2="556.63" stroke="#000" stroke-width="1.2"/>
<line x1="245.45" y1="569.6" x2="245.45" y2="594.58" stroke="#000" stroke-width="1.0"/>
<line x1="243.95" y1="569.6" x2="246.95" y2="569.6" stroke="#000" stroke-width="1.2"/>
<line x1="243.95" y1="594.58" x2="246.95" y2="594.58" stroke="#000" stroke-width="1.2"/>
<line x1="254.35" y1="580.17" x2="254.35" y2="607.07" stroke="#000" stroke-width="1.0"/>
<line x1="252.85" y1="580.17" x2="255.85" y2="580.17" stroke="#000" stroke-width="1.2"/>
<line x1="252.85" y1="607.07" x2="255.85" y2="607.07" stroke="#000" stroke-width="1.2"/>
<line x1="201.8" y1="522.2" x2="201.8" y2="643.9" stroke="#000" stroke-width="1.3"/>
<line x1="201.8" y1="640.7" x2="266.3" y2="640.7" stroke="#000" stroke-width="1.3"/>
<line x1="201.8" y1="640.7" x2="201.8" y2="643.9" stroke="#000" stroke-width="1.3"/>
<line x1="233.4" y1="640.7" x2="233.4" y2="643.9" stroke="#000" stroke-width="1.3"/>
<line x1="265.7" y1="640.7" x2="265.7" y2="643.9" stroke="#000" stroke-width="1.3"/>
<line x1="198.6" y1="640.7" x2="201.8" y2="640.7" stroke="#000" stroke-width="1.3"/>
<text x="0" y="0" font-size="8.8" text-anchor="end" transform="translate(195.5 643.87) scale(0.87 1)" fill="#000">0</text>
<line x1="198.6" y1="621.48" x2="201.8" y2="621.48" stroke="#000" stroke-width="1.3"/>
<text x="0" y="0" font-size="8.8" text-anchor="end" transform="translate(195.5 624.65) scale(0.87 1)" fill="#000">0.2</text>
<line x1="198.6" y1="602.27" x2="201.8" y2="602.27" stroke="#000" stroke-width="1.3"/>
<text x="0" y="0" font-size="8.8" text-anchor="end" transform="translate(195.5 605.43) scale(0.87 1)" fill="#000">0.4</text>
<line x1="198.6" y1="583.05" x2="201.8" y2="583.05" stroke="#000" stroke-width="1.3"/>
<text x="0" y="0" font-size="8.8" text-anchor="end" transform="translate(195.5 586.22) scale(0.87 1)" fill="#000">0.6</text>
<line x1="198.6" y1="563.83" x2="201.8" y2="563.83" stroke="#000" stroke-width="1.3"/>
<text x="0" y="0" font-size="8.8" text-anchor="end" transform="translate(195.5 567) scale(0.87 1)" fill="#000">0.8</text>
<line x1="198.6" y1="544.62" x2="201.8" y2="544.62" stroke="#000" stroke-width="1.3"/>
<text x="0" y="0" font-size="8.8" text-anchor="end" transform="translate(195.5 547.78) scale(0.87 1)" fill="#000">1</text>
<line x1="198.6" y1="525.4" x2="201.8" y2="525.4" stroke="#000" stroke-width="1.3"/>
<text x="0" y="0" font-size="8.8" text-anchor="end" transform="translate(195.5 528.57) scale(0.87 1)" fill="#000">1.2</text>
<text x="0" y="0" font-size="8.7" text-anchor="middle" transform="translate(217.9 654) scale(0.92 1)" fill="#000">- Dox</text>
<text x="0" y="0" font-size="8.7" text-anchor="middle" transform="translate(249.9 654) scale(0.92 1)" fill="#000">+ Dox</text>
<text x="167.2" y="581.8" font-size="8.8" text-anchor="middle" transform="rotate(-90 167.2 581.8)" fill="#000">Viability</text>
<text x="179" y="581.8" font-size="8.8" text-anchor="middle" transform="rotate(-90 179 581.8)" fill="#000">(relative to control)</text>
<polyline points="212.5,518.7 212.5,515.5 245.4,515.5 245.4,518.7" fill="none" stroke="#000" stroke-width="1.2"/>
<ellipse cx="224.65" cy="511.6" rx="1.45" ry="1.25" fill="#000"/>
<ellipse cx="228.95" cy="511.6" rx="1.45" ry="1.25" fill="#000"/>
<ellipse cx="233.25" cy="511.6" rx="1.45" ry="1.25" fill="#000"/>
<polyline points="221.5,528.6 221.5,525.4 254.4,525.4 254.4,528.6" fill="none" stroke="#000" stroke-width="1.2"/>
<ellipse cx="237.95" cy="521.2" rx="1.45" ry="1.25" fill="#000"/>
<rect x="331.1" y="583.25" width="8.9" height="57.45" fill="#b4b4b4"/>
<rect x="340" y="566.01" width="8.9" height="74.69" fill="#656565"/>
<rect x="363.1" y="532.98" width="8.9" height="107.72" fill="#b4b4b4"/>
<rect x="372" y="559.7" width="8.9" height="81" fill="#656565"/>
<line x1="335.55" y1="580.38" x2="335.55" y2="586.12" stroke="#000" stroke-width="1.0"/>
<line x1="334.05" y1="580.38" x2="337.05" y2="580.38" stroke="#000" stroke-width="1.2"/>
<line x1="334.05" y1="586.12" x2="337.05" y2="586.12" stroke="#000" stroke-width="1.2"/>
<rect x="342.95" y="564.37" width="3" height="3.3" rx="0.6" fill="#000"/>
<line x1="367.55" y1="529.53" x2="367.55" y2="536.43" stroke="#000" stroke-width="1.0"/>
<line x1="366.05" y1="529.53" x2="369.05" y2="529.53" stroke="#000" stroke-width="1.2"/>
<line x1="366.05" y1="536.43" x2="369.05" y2="536.43" stroke="#000" stroke-width="1.2"/>
<rect x="374.95" y="558.62" width="3" height="2.15" rx="0.6" fill="#000"/>
<line x1="323.8" y1="522.6" x2="323.8" y2="643.9" stroke="#000" stroke-width="1.3"/>
<line x1="323.8" y1="640.7" x2="390.6" y2="640.7" stroke="#000" stroke-width="1.3"/>
<line x1="323.8" y1="640.7" x2="323.8" y2="643.9" stroke="#000" stroke-width="1.3"/>
<line x1="356" y1="640.7" x2="356" y2="643.9" stroke="#000" stroke-width="1.3"/>
<line x1="390" y1="640.7" x2="390" y2="643.9" stroke="#000" stroke-width="1.3"/>
<line x1="320.6" y1="640.7" x2="323.8" y2="640.7" stroke="#000" stroke-width="1.3"/>
<text x="0" y="0" font-size="8.8" text-anchor="end" transform="translate(317.5 643.87) scale(0.87 1)" fill="#000">0</text>
<line x1="320.6" y1="611.98" x2="323.8" y2="611.98" stroke="#000" stroke-width="1.3"/>
<text x="0" y="0" font-size="8.8" text-anchor="end" transform="translate(317.5 615.14) scale(0.87 1)" fill="#000">0.5</text>
<line x1="320.6" y1="583.25" x2="323.8" y2="583.25" stroke="#000" stroke-width="1.3"/>
<text x="0" y="0" font-size="8.8" text-anchor="end" transform="translate(317.5 586.42) scale(0.87 1)" fill="#000">1</text>
<line x1="320.6" y1="554.52" x2="323.8" y2="554.52" stroke="#000" stroke-width="1.3"/>
<text x="0" y="0" font-size="8.8" text-anchor="end" transform="translate(317.5 557.69) scale(0.87 1)" fill="#000">1.5</text>
<line x1="320.6" y1="525.8" x2="323.8" y2="525.8" stroke="#000" stroke-width="1.3"/>
<text x="0" y="0" font-size="8.8" text-anchor="end" transform="translate(317.5 528.97) scale(0.87 1)" fill="#000">2</text>
<text x="0" y="0" font-size="8.7" text-anchor="middle" transform="translate(340 654) scale(0.92 1)" fill="#000">- Dox</text>
<text x="0" y="0" font-size="8.7" text-anchor="middle" transform="translate(372 654) scale(0.92 1)" fill="#000">+ Dox</text>
<text x="289" y="581.8" font-size="8.8" text-anchor="middle" transform="rotate(-90 289 581.8)" fill="#000">MitoSox fluorescence</text>
<text x="300.2" y="581.8" font-size="8.8" text-anchor="middle" transform="rotate(-90 300.2 581.8)" fill="#000">(relative to control)</text>
<polyline points="334.6,519.4 334.6,516.2 367.6,516.2 367.6,519.4" fill="none" stroke="#000" stroke-width="1.2"/>
<ellipse cx="348.95" cy="512.3" rx="1.45" ry="1.25" fill="#000"/>
<ellipse cx="353.25" cy="512.3" rx="1.45" ry="1.25" fill="#000"/>
<polyline points="344.1,529 344.1,525.8 376.6,525.8 376.6,529" fill="none" stroke="#000" stroke-width="1.2"/>
<ellipse cx="360.35" cy="521.4" rx="1.45" ry="1.25" fill="#000"/>
<rect x="453.1" y="558.63" width="8.9" height="82.07" fill="#b4b4b4"/>
<rect x="462" y="545.5" width="8.9" height="95.2" fill="#656565"/>
<rect x="485.1" y="592.28" width="8.9" height="48.42" fill="#b4b4b4"/>
<rect x="494" y="581.61" width="8.9" height="59.09" fill="#656565"/>
<line x1="457.55" y1="552.06" x2="457.55" y2="565.19" stroke="#000" stroke-width="1.0"/>
<line x1="456.05" y1="552.06" x2="459.05" y2="552.06" stroke="#000" stroke-width="1.2"/>
<line x1="456.05" y1="565.19" x2="459.05" y2="565.19" stroke="#000" stroke-width="1.2"/>
<line x1="466.45" y1="540.57" x2="466.45" y2="550.42" stroke="#000" stroke-width="1.0"/>
<line x1="464.95" y1="540.57" x2="467.95" y2="540.57" stroke="#000" stroke-width="1.2"/>
<line x1="464.95" y1="550.42" x2="467.95" y2="550.42" stroke="#000" stroke-width="1.2"/>
<line x1="489.55" y1="585.71" x2="489.55" y2="598.84" stroke="#000" stroke-width="1.0"/>
<line x1="488.05" y1="585.71" x2="491.05" y2="585.71" stroke="#000" stroke-width="1.2"/>
<line x1="488.05" y1="598.84" x2="491.05" y2="598.84" stroke="#000" stroke-width="1.2"/>
<rect x="496.95" y="580.7" width="3" height="1.82" rx="0.6" fill="#000"/>
<line x1="446" y1="522.6" x2="446" y2="643.9" stroke="#000" stroke-width="1.3"/>
<line x1="446" y1="640.7" x2="511.1" y2="640.7" stroke="#000" stroke-width="1.3"/>
<line x1="446" y1="640.7" x2="446" y2="643.9" stroke="#000" stroke-width="1.3"/>
<line x1="478.1" y1="640.7" x2="478.1" y2="643.9" stroke="#000" stroke-width="1.3"/>
<line x1="510.5" y1="640.7" x2="510.5" y2="643.9" stroke="#000" stroke-width="1.3"/>
<line x1="442.8" y1="640.7" x2="446" y2="640.7" stroke="#000" stroke-width="1.3"/>
<text x="0" y="0" font-size="8.8" text-anchor="end" transform="translate(439.7 643.87) scale(0.87 1)" fill="#000">0</text>
<line x1="442.8" y1="624.29" x2="446" y2="624.29" stroke="#000" stroke-width="1.3"/>
<text x="0" y="0" font-size="8.8" text-anchor="end" transform="translate(439.7 627.45) scale(0.87 1)" fill="#000">0.2</text>
<line x1="442.8" y1="607.87" x2="446" y2="607.87" stroke="#000" stroke-width="1.3"/>
<text x="0" y="0" font-size="8.8" text-anchor="end" transform="translate(439.7 611.04) scale(0.87 1)" fill="#000">0.4</text>
<line x1="442.8" y1="591.46" x2="446" y2="591.46" stroke="#000" stroke-width="1.3"/>
<text x="0" y="0" font-size="8.8" text-anchor="end" transform="translate(439.7 594.63) scale(0.87 1)" fill="#000">0.6</text>
<line x1="442.8" y1="575.04" x2="446" y2="575.04" stroke="#000" stroke-width="1.3"/>
<text x="0" y="0" font-size="8.8" text-anchor="end" transform="translate(439.7 578.21) scale(0.87 1)" fill="#000">0.8</text>
<line x1="442.8" y1="558.63" x2="446" y2="558.63" stroke="#000" stroke-width="1.3"/>
<text x="0" y="0" font-size="8.8" text-anchor="end" transform="translate(439.7 561.8) scale(0.87 1)" fill="#000">1</text>
<line x1="442.8" y1="542.21" x2="446" y2="542.21" stroke="#000" stroke-width="1.3"/>
<text x="0" y="0" font-size="8.8" text-anchor="end" transform="translate(439.7 545.38) scale(0.87 1)" fill="#000">1.2</text>
<line x1="442.8" y1="525.8" x2="446" y2="525.8" stroke="#000" stroke-width="1.3"/>
<text x="0" y="0" font-size="8.8" text-anchor="end" transform="translate(439.7 528.97) scale(0.87 1)" fill="#000">1.4</text>
<text x="0" y="0" font-size="8.7" text-anchor="middle" transform="translate(462 654) scale(0.92 1)" fill="#000">- Dox</text>
<text x="0" y="0" font-size="8.7" text-anchor="middle" transform="translate(494 654) scale(0.92 1)" fill="#000">+ Dox</text>
<text x="410.8" y="581.8" font-size="8.8" text-anchor="middle" transform="rotate(-90 410.8 581.8)" fill="#000">Viability</text>
<text x="423.5" y="581.8" font-size="8.8" text-anchor="middle" transform="rotate(-90 423.5 581.8)" fill="#000">(relative to control)</text>
<polyline points="456.8,519.4 456.8,516.2 489.7,516.2 489.7,519.4" fill="none" stroke="#000" stroke-width="1.2"/>
<ellipse cx="468.95" cy="512.3" rx="1.45" ry="1.25" fill="#000"/>
<ellipse cx="473.25" cy="512.3" rx="1.45" ry="1.25" fill="#000"/>
<ellipse cx="477.55" cy="512.3" rx="1.45" ry="1.25" fill="#000"/>
<polyline points="466.3,529.3 466.3,526.1 498.9,526.1 498.9,529.3" fill="none" stroke="#000" stroke-width="1.2"/>
<ellipse cx="480.45" cy="521.8" rx="1.45" ry="1.25" fill="#000"/>
<ellipse cx="484.75" cy="521.8" rx="1.45" ry="1.25" fill="#000"/>
<text x="7.9" y="16.2" font-size="11.8" text-anchor="start" font-weight="bold" fill="#000" style="stroke:none">A</text>
<text x="7.6" y="186.3" font-size="11.5" text-anchor="start" font-weight="bold" fill="#000" style="stroke:none">B</text>
<text x="30.6" y="275.4" font-size="9.8" text-anchor="end" font-weight="bold" fill="#000">Ly3</text>
<text x="30.4" y="429" font-size="9.8" text-anchor="end" font-weight="bold" fill="#000">Ly10</text>
<text x="30.4" y="584.8" font-size="9.6" text-anchor="end" font-weight="bold" fill="#000">Riva</text>
<rect x="425.6" y="65.1" width="6.2" height="6.2" fill="#000000"/>
<text x="449.8" y="70.9" font-size="7.6" text-anchor="end" fill="#000">0 h</text>
<rect x="425.6" y="76.5" width="6.2" height="6.2" fill="#333333"/>
<text x="449.8" y="82.3" font-size="7.6" text-anchor="end" fill="#000">16 h</text>
<rect x="425.6" y="87.9" width="6.2" height="6.2" fill="#666666"/>
<text x="449.8" y="93.7" font-size="7.6" text-anchor="end" fill="#000">24 h</text>
<rect x="425.6" y="99.3" width="6.2" height="6.2" fill="#9c9c9c"/>
<text x="449.8" y="105.1" font-size="7.6" text-anchor="end" fill="#000">30 h</text>
<rect x="425.6" y="110.7" width="6.2" height="6.2" fill="#d0d0d0"/>
<text x="449.8" y="116.5" font-size="7.6" text-anchor="end" fill="#000">40 h</text>
<rect x="132.5" y="193.8" width="5.4" height="5.4" fill="#b4b4b4"/>
<text x="140.8" y="199.2" font-size="8.3" text-anchor="start" fill="#000">nil</text>
<rect x="158.2" y="193.8" width="5.6" height="5.4" fill="#333333"/>
<text x="166" y="199.2" font-size="8.3" text-anchor="start" fill="#000">NAC</text>
<rect x="384.2" y="193.9" width="5.4" height="5.4" fill="#b4b4b4"/>
<text x="392.4" y="199.2" font-size="8.3" text-anchor="start" fill="#000">nil</text>
<rect x="409.8" y="193.9" width="5.6" height="5.4" fill="#656565"/>
<text x="417.6" y="199.2" font-size="8.3" text-anchor="start" fill="#000">VitC</text>
<rect x="0.6" y="0.6" width="518.8" height="660.8" fill="none" stroke="#000" stroke-width="1.4"/>
</svg>
</body></html>
